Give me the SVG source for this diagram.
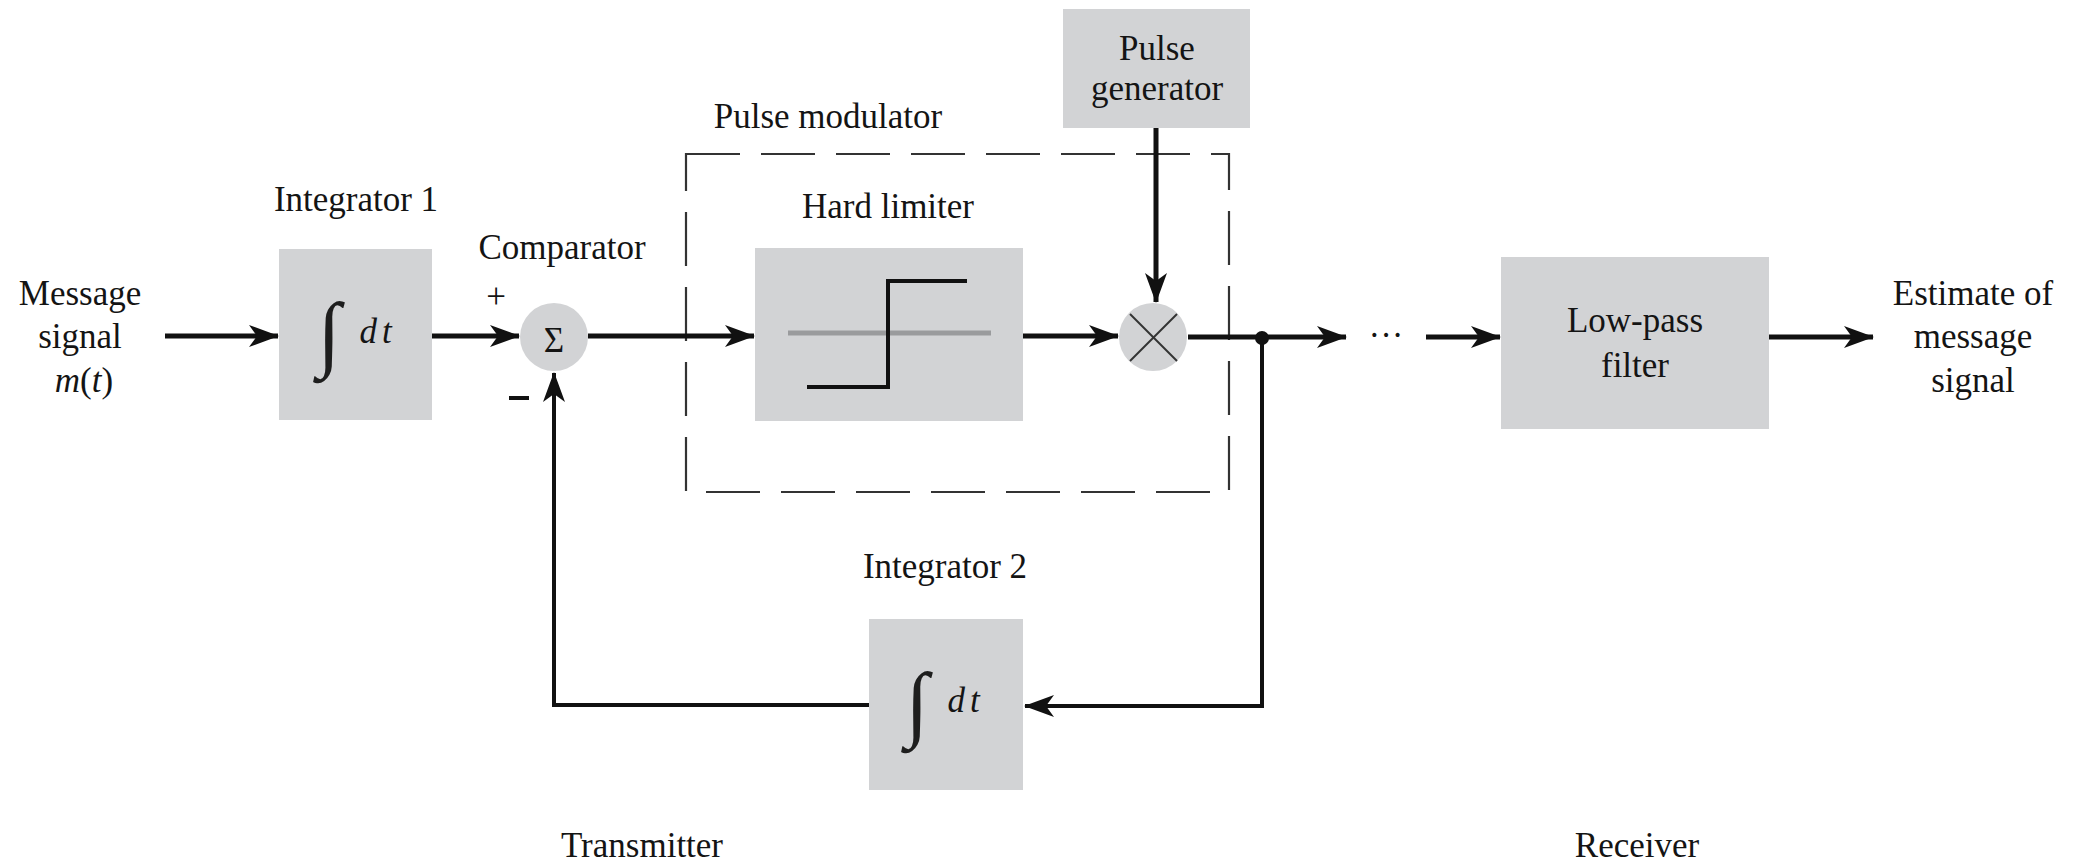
<svg xmlns="http://www.w3.org/2000/svg" width="2088" height="867" viewBox="0 0 2088 867">
<style>
  .t { font-family: "Liberation Serif", "Times New Roman", serif; font-size: 35px; fill: #141414; text-anchor: middle; }
  .box { fill: #d2d3d5; stroke: none; }
  .circ { fill: #d2d3d5; stroke: none; }
  .wire { fill: none; stroke: #111; stroke-width: 5; }
  .thin { fill: none; stroke: #111; stroke-width: 4; }
  .dash { fill: none; stroke: #333; stroke-width: 2.2; stroke-dasharray: 54 21; }
  .int { font-family: "Liberation Serif", "DejaVu Serif", serif; font-size: 84px; fill: #1e1e1e; text-anchor: middle; }
  .it { font-style: italic; }
</style>
<defs>
  <marker id="arr" markerUnits="userSpaceOnUse" viewBox="0 0 30 22" refX="29" refY="11" markerWidth="30" markerHeight="22" orient="auto">
    <path d="M0,0 L30,11 L0,22 L8,11 Z" fill="#111"/>
  </marker>
</defs>

<rect width="2088" height="867" fill="#fff"/>

<g id="pulse-modulator">
  <rect class="dash" x="686" y="154" width="543" height="338"/>
  <text class="t" x="828" y="128">Pulse modulator</text>
</g>

<g id="connectors">
  <path class="wire" d="M165,336 H278" marker-end="url(#arr)"/>
  <path class="wire" d="M432,336 H519" marker-end="url(#arr)"/>
  <path class="wire" d="M588,336 H754" marker-end="url(#arr)"/>
  <path class="wire" d="M1023,336 H1118" marker-end="url(#arr)"/>
  <path class="wire" d="M1156,128 V302" marker-end="url(#arr)"/>
  <path class="wire" d="M1188,337 H1346" marker-end="url(#arr)"/>
  <path class="wire" d="M1426,337 H1500" marker-end="url(#arr)"/>
  <path class="wire" d="M1769,337 H1873" marker-end="url(#arr)"/>
  <path class="thin" d="M1262,338 V706 H1025" marker-end="url(#arr)"/>
  <path class="thin" d="M869,705 H554 V373" marker-end="url(#arr)"/>
  <circle cx="1262" cy="338" r="7" fill="#111"/>
  <text class="t" x="1386" y="347" font-size="34">···</text>
</g>

<g id="message-signal">
  <text class="t" x="80" y="305">Message</text>
  <text class="t" x="80" y="348">signal</text>
  <text class="t" x="84" y="392"><tspan class="it">m</tspan>(<tspan class="it">t</tspan>)</text>
</g>

<g id="integrator1">
  <text class="t" x="356" y="211">Integrator 1</text>
  <rect class="box" x="279" y="249" width="153" height="171"/>
  <text class="int" x="329" y="361">∫</text>
  <text class="t it" x="378" y="343" letter-spacing="5">dt</text>
</g>

<g id="comparator">
  <text class="t" x="562" y="259">Comparator</text>
  <circle class="circ" cx="554" cy="337" r="34"/>
  <text class="t" x="554" y="352" font-size="38">Σ</text>
  <text class="t" x="496" y="308" font-size="28">+</text>
  <rect x="509" y="396" width="20" height="4" fill="#111"/>
</g>

<g id="hard-limiter">
  <text class="t" x="888" y="218">Hard limiter</text>
  <rect class="box" x="755" y="248" width="268" height="173"/>
  <line x1="788" y1="333" x2="991" y2="333" stroke="#9a9b9d" stroke-width="5"/>
  <path d="M807,387 H888 V281 H967" fill="none" stroke="#111" stroke-width="4"/>
</g>

<g id="pulse-generator">
  <rect class="box" x="1063" y="9" width="187" height="119"/>
  <text class="t" x="1157" y="60">Pulse</text>
  <text class="t" x="1157" y="100">generator</text>
</g>

<g id="multiplier">
  <circle class="circ" cx="1153" cy="337" r="34"/>
  <line x1="1130" y1="314" x2="1177" y2="361" stroke="#333" stroke-width="2"/>
  <line x1="1177" y1="314" x2="1130" y2="361" stroke="#333" stroke-width="2"/>
</g>

<g id="low-pass-filter">
  <rect class="box" x="1501" y="257" width="268" height="172"/>
  <text class="t" x="1635" y="332">Low-pass</text>
  <text class="t" x="1635" y="377">filter</text>
</g>

<g id="estimate">
  <text class="t" x="1973" y="305">Estimate of</text>
  <text class="t" x="1973" y="348">message</text>
  <text class="t" x="1973" y="392">signal</text>
</g>

<g id="integrator2">
  <text class="t" x="945" y="578">Integrator 2</text>
  <rect class="box" x="869" y="619" width="154" height="171"/>
  <text class="int" x="917" y="731">∫</text>
  <text class="t it" x="966" y="712" letter-spacing="5">dt</text>
</g>

<g id="labels">
  <text class="t" x="642" y="857">Transmitter</text>
  <text class="t" x="1637" y="857">Receiver</text>
</g>
</svg>
